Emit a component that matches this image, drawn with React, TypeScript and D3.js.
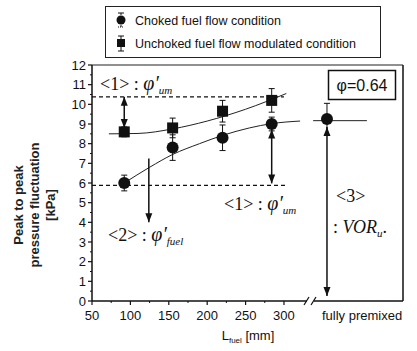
import { scaleLinear, line, curveMonotoneX, range } from 'd3'

// fuel line length [mm] for the four measured cases
const lengths = [92, 155, 220, 284]
const chokedValues = [6.0, 7.8, 8.3, 9.0]
const chokedErr = [0.4, 0.65, 0.65, 0.35]
const unchokedValues = [8.6, 8.8, 9.65, 10.2]
const unchokedErr = [0.25, 0.5, 0.55, 0.6]

// fully premixed case sits past the axis break
const premixedPos = 356
const premixedValue = 9.25
const premixedErr = 0.8

// fitted curves
const unchokedFit: [number, number][] = [[72, 8.5], [110, 8.52], [155, 8.75], [200, 9.15], [250, 9.75], [303, 10.55]]
const chokedFit: [number, number][] = [[92, 6.0], [125, 6.8], [155, 7.45], [190, 8.0], [220, 8.42], [255, 8.8], [284, 9.02], [321, 9.15]]
const chokedFitTail: [number, number][] = [[338, 9.17], [408, 9.17]]

const xTicks = [50, 100, 150, 200, 250, 300]
const xMinorTicks = [75, 125, 175, 225, 275]
const yTicks = range(0, 13)
const yMinorTicks = range(0.5, 12, 1)

const upperDashed = 10.38
const lowerDashed = 5.88

export default function App() {
	const x = scaleLinear().domain([50, 455]).range([92, 403])
	const y = scaleLinear().domain([0, 12]).range([301, 65])
	const fitLine = line<[number, number]>()
		.x((d) => x(d[0]))
		.y((d) => y(d[1]))
		.curve(curveMonotoneX)

	const sans = 'Arial, "Liberation Sans", sans-serif'
	const serif = '"Times New Roman", "Liberation Serif", serif'
	const breakX = 310

	const errBar = (px: number, v: number, e: number, key: string) => (
		<g key={key} stroke="#111" strokeWidth={1}>
			<line x1={px} x2={px} y1={y(v + e)} y2={y(v - e)} />
			<line x1={px - 3} x2={px + 3} y1={y(v + e)} y2={y(v + e)} />
			<line x1={px - 3} x2={px + 3} y1={y(v - e)} y2={y(v - e)} />
		</g>
	)

	const arrow = (px: number, y1: number, y2: number, both: boolean, key: string) => {
		const top = y(y1)
		const bot = y(y2)
		return (
			<g key={key}>
				<line x1={px} x2={px} y1={top} y2={bot} stroke="#111" strokeWidth={1.5} />
				<path d={`M${px - 3.5},${bot - 9} L${px + 3.5},${bot - 9} L${px},${bot} Z`} fill="#111" />
				{both && <path d={`M${px - 3.5},${top + 9} L${px + 3.5},${top + 9} L${px},${top} Z`} fill="#111" />}
			</g>
		)
	}

	return (
		<div style={{ position: 'absolute', left: 0, top: 0 }}>
			<svg width={417} height={351} viewBox="0 0 417 351" style={{ display: 'block', background: '#fff' }}>
				{/* legend */}
				<rect x={105.5} y={6.5} width={275} height={51} fill="#fff" stroke="#222" strokeWidth={1} />
				<g stroke="#111" strokeWidth={1}>
					<line x1={121} x2={121} y1={13} y2={27} strokeDasharray="2,1" />
					<line x1={118} x2={124} y1={13} y2={13} />
					<line x1={118} x2={124} y1={27} y2={27} strokeDasharray="1,1" />
					<line x1={121} x2={121} y1={36} y2={51} />
					<line x1={118} x2={124} y1={36} y2={36} />
					<line x1={118} x2={124} y1={51} y2={51} />
				</g>
				<circle cx={121} cy={20} r={4.5} fill="#111" />
				<rect x={117} y={39} width={8} height={8} fill="#111" />
				<text x={135} y={24.5} fontFamily={sans} fontSize={12.5} fill="#111">Choked fuel flow condition</text>
				<text x={135} y={47.5} fontFamily={sans} fontSize={12.5} fill="#111">Unchoked fuel flow modulated condition</text>

				{/* frame */}
				<line x1={x(50)} x2={403} y1={65} y2={65} stroke="#222" strokeWidth={1.2} />
				<line x1={403} x2={403} y1={65} y2={301} stroke="#111" strokeWidth={1.5} />
				<line x1={x(50)} x2={x(50)} y1={65} y2={301} stroke="#111" strokeWidth={1.5} />
				<line x1={x(50)} x2={breakX - 3} y1={301} y2={301} stroke="#111" strokeWidth={1.5} />
				<line x1={breakX + 4} x2={403} y1={301} y2={301} stroke="#111" strokeWidth={1.5} />
				<line x1={breakX - 6} x2={breakX - 1} y1={305} y2={297} stroke="#111" strokeWidth={1.2} />
				<line x1={breakX + 1} x2={breakX + 6} y1={305} y2={297} stroke="#111" strokeWidth={1.2} />

				{/* y axis ticks */}
				{yTicks.map((t) => (
					<g key={`y${t}`}>
						<line x1={x(50) - 4} x2={x(50)} y1={y(t)} y2={y(t)} stroke="#111" strokeWidth={1.2} />
						<text x={x(50) - 6} y={y(t)} dy="0.36em" textAnchor="end" fontFamily={sans} fontSize={13} fill="#111">
							{t}
						</text>
					</g>
				))}
				{yMinorTicks.map((t) => (
					<line key={`ym${t}`} x1={x(50) - 2} x2={x(50)} y1={y(t)} y2={y(t)} stroke="#111" />
				))}

				{/* x axis ticks */}
				{xTicks.map((t) => (
					<g key={`x${t}`}>
						<line x1={x(t)} x2={x(t)} y1={301} y2={305} stroke="#111" strokeWidth={1.2} />
						<text x={x(t)} y={320} textAnchor="middle" fontFamily={sans} fontSize={13} fill="#111">
							{t}
						</text>
					</g>
				))}
				{xMinorTicks.map((t) => (
					<line key={`xm${t}`} x1={x(t)} x2={x(t)} y1={301} y2={303} stroke="#111" />
				))}
				<text x={x(premixedPos) - 5} y={320} fontFamily={sans} fontSize={13} fill="#111">fully premixed</text>

				{/* axis titles */}
				<text x={248} y={340} textAnchor="middle" fontFamily={sans} fontSize={13} fill="#111">
					L<tspan fontSize={8} dy={3}>fuel</tspan>
					<tspan dy={-3}> [mm]</tspan>
				</text>
				<g transform="translate(0,205) rotate(-90)" fontFamily={sans} fontSize={13} fontWeight="bold" fill="#222" textAnchor="middle">
					<text x={0} y={23}>Peak to peak</text>
					<text x={0} y={39}>pressure fluctuation</text>
					<text x={0} y={55}>[kPa]</text>
				</g>

				{/* dashed reference levels */}
				<line x1={x(50)} x2={x(300)} y1={y(upperDashed)} y2={y(upperDashed)} stroke="#111" strokeWidth={1.3} strokeDasharray="4,3" />
				<line x1={x(50)} x2={x(305)} y1={y(lowerDashed)} y2={y(lowerDashed)} stroke="#111" strokeWidth={1.3} strokeDasharray="4,3" />

				{/* fits */}
				<path d={fitLine(unchokedFit) ?? ''} fill="none" stroke="#222" strokeWidth={1} />
				<path d={fitLine(chokedFit) ?? ''} fill="none" stroke="#222" strokeWidth={1} />
				<path d={fitLine(chokedFitTail) ?? ''} fill="none" stroke="#222" strokeWidth={1} />

				{/* arrows */}
				{arrow(x(lengths[0]), upperDashed, unchokedValues[0] + 0.2, true, 'a1')}
				{arrow(x(124), 7.25, 4.0, false, 'a2')}
				{arrow(x(lengths[3]), chokedValues[3] - 0.28, lowerDashed + 0.1, true, 'a3')}
				{arrow(x(premixedPos), premixedValue - 0.4, 0.25, true, 'a4')}

				{/* error bars and markers */}
				{lengths.map((l, i) => errBar(x(l), unchokedValues[i], unchokedErr[i], `ue${i}`))}
				{lengths.map((l, i) => errBar(x(l), chokedValues[i], chokedErr[i], `ce${i}`))}
				{errBar(x(premixedPos), premixedValue, premixedErr, 'pe')}
				{lengths.map((l, i) => (
					<rect key={`us${i}`} x={x(l) - 5.5} y={y(unchokedValues[i]) - 5.5} width={11} height={11} fill="#111" />
				))}
				{lengths.map((l, i) => (
					<circle key={`cc${i}`} cx={x(l)} cy={y(chokedValues[i])} r={6} fill="#111" />
				))}
				<circle cx={x(premixedPos)} cy={y(premixedValue)} r={6} fill="#111" />

				{/* phi box */}
				<rect x={328.5} y={70.5} width={67} height={29} fill="#fff" stroke="#111" strokeWidth={1.5} />
				<text x={362} y={91} textAnchor="middle" fontFamily={sans} fontSize={16} fill="#111">φ=0.64</text>

				{/* annotations */}
				<text x={100} y={90} fontFamily={serif} fontSize={18} fill="#111">
					&lt;1&gt; : <tspan fontStyle="italic" fontSize={20}>φ′</tspan>
					<tspan fontStyle="italic" fontSize={11} dy={4}>um</tspan>
				</text>
				<text x={224} y={210} fontFamily={serif} fontSize={18} fill="#111">
					&lt;1&gt; : <tspan fontStyle="italic" fontSize={20}>φ′</tspan>
					<tspan fontStyle="italic" fontSize={11} dy={4}>um</tspan>
				</text>
				<text x={108} y={241} fontFamily={serif} fontSize={18} fill="#111">
					&lt;2&gt; : <tspan fontStyle="italic" fontSize={20}>φ′</tspan>
					<tspan fontStyle="italic" fontSize={11} dy={4}>fuel</tspan>
				</text>
				<text x={336} y={202} fontFamily={serif} fontSize={18} fill="#111">&lt;3&gt;</text>
				<text x={333} y={233} fontFamily={serif} fontSize={18} fill="#111">
					: <tspan fontStyle="italic">VOR</tspan>
					<tspan fontStyle="italic" fontSize={11} dy={4}>u</tspan>
					<tspan dy={-4}>.</tspan>
				</text>
			</svg>
		</div>
	)
}
